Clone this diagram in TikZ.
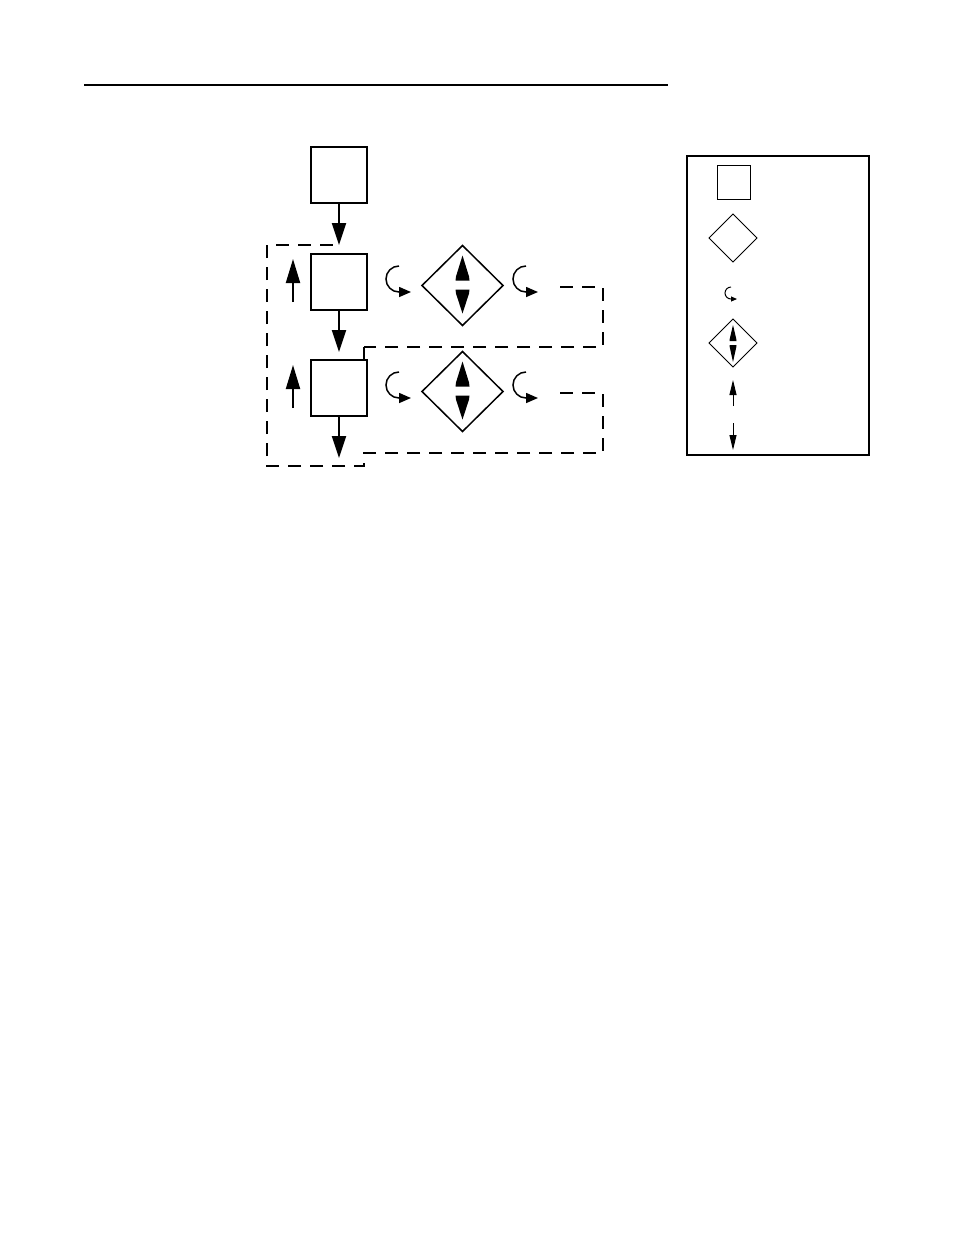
\documentclass[tikz,border=0pt]{standalone}
\usetikzlibrary{shapes.geometric,arrows.meta}
\tikzset{
  blk/.style={draw, line width=2pt, minimum size=56pt, inner sep=0pt, outer sep=0pt},
  dia/.style={draw, diamond, line width=1.5pt, minimum width=81pt, minimum height=80pt, inner sep=0pt, outer sep=0pt},
  ldia/.style={draw, diamond, line width=1pt, minimum width=48pt, minimum height=48pt, inner sep=0pt, outer sep=0pt},
  flow/.style={line width=2pt, -{Triangle[length=22pt,width=14pt]}},
  upar/.style={line width=2pt, -{Triangle[length=24pt,width=14pt]}},
  fb/.style={line width=1.4pt, dash pattern=on 13pt off 9pt},
  curv/.pic={\draw[line width=1.5pt, -{Triangle[length=12pt,width=10pt]}]
     (0,-13) .. controls (-7.2,-13) and (-13,-7.2) .. (-13,0)
     .. controls (-13,7.2) and (-7.2,13) .. (0,13) -- (12,13);},
  twin/.pic={\fill (-7,-5) -- (-6.5,-9) -- (0,-30) -- (6.5,-9) -- (7,-5) -- cycle;
     \fill (-7,4) -- (-6.5,8) -- (0,28) -- (6.5,8) -- (7,4) -- cycle;},
  ltwin/.pic={\fill (-3.5,-2) -- (-3.3,-4) -- (0,-18) -- (3.3,-4) -- (3.5,-2) -- cycle;
     \fill (-3.5,2) -- (-3.3,4) -- (0,19) -- (3.3,4) -- (3.5,2) -- cycle;}
}
\begin{document}
\begin{tikzpicture}[x=1pt,y=-1pt]
\useasboundingbox (0,0) rectangle (954,1235);
% top rule
\coordinate (r1) at (84,85);
\coordinate (r2) at (668,85);
\draw[line width=1.5pt] (r1) -- (r2);

% main blocks
\node[blk] (b1) at (339,175) {};
\node[blk] (b2) at (339,281.5) {};
\node[blk] (b3) at (339,387.5) {};

% diamonds
\node[dia] (d1) at (462.5,285.5) {};
\node[dia] (d2) at (462.5,391.5) {};
\pic at (d1.center) {twin};
\pic at (d2.center) {twin};

% curved arrows
\pic at (399,279) {curv};
\pic at (526,279) {curv};
\pic at (399,385) {curv};
\pic at (526,385) {curv};

% coordinates for feedback
\coordinate (t1) at (339,245);
\coordinate (t2) at (339,352);
\coordinate (t3) at (339,458);
\coordinate (u1s) at (293,302);
\coordinate (u1e) at (293,259);
\coordinate (u2s) at (293,408);
\coordinate (u2e) at (293,365);

% flow arrows
\draw[flow] (b1.south) -- (t1);
\draw[flow] (b2.south) -- (t2);
\draw[flow] (b3.south) -- (t3);
\draw[upar] (u1s) -- (u1e);
\draw[upar] (u2s) -- (u2e);

% feedback dashed loops
\coordinate (p1) at (267,245);
\coordinate (p2) at (267,466);
\coordinate (p3) at (364,466);
\coordinate (p4) at (364,453);
\coordinate (p5) at (603,453);
\coordinate (p6) at (603,393);
\coordinate (p7) at (560,393);
\draw[fb] (p7) -- (p6) -- (p5) -- (p4) -- (p3) -- (p2) -- (p1) -- (t1);
\coordinate (q0) at (364,359);
\coordinate (q1) at (364,347);
\coordinate (q2) at (603,347);
\coordinate (q3) at (603,287);
\coordinate (q4) at (560,287);
\draw[line width=1.4pt] (q0) -- (q1);
\draw[fb] (q4) -- (q3) -- (q2) -- (q1);

% legend
\node[draw, line width=1.2pt, minimum width=182pt, minimum height=299pt, inner sep=0pt, outer sep=0pt] (leg) at (778,305.5) {};
\node[draw, line width=1pt, minimum width=33pt, minimum height=34pt, inner sep=0pt, outer sep=0pt] (lsq) at (733.5,182) {};
\node[ldia] (ld1) at (733,238) {};
\node[ldia] (ld2) at (733,343) {};
\pic at (ld2.center) {ltwin};
\draw[line width=1pt, -{Triangle[length=6pt,width=5pt]}]
  (731,287) .. controls (727.7,287) and (725,289.7) .. (725,293)
  .. controls (725,296.3) and (727.7,299) .. (731,299) -- (737,299);
\coordinate (lu1) at (733,406);
\coordinate (lu2) at (733,380);
\coordinate (ld1s) at (733,423);
\coordinate (ld1e) at (733,450);
\draw[line width=1pt, -{Triangle[length=15pt,width=7pt]}] (lu1) -- (lu2);
\draw[line width=1pt, -{Triangle[length=15pt,width=7pt]}] (ld1s) -- (ld1e);
\end{tikzpicture}
\end{document}
